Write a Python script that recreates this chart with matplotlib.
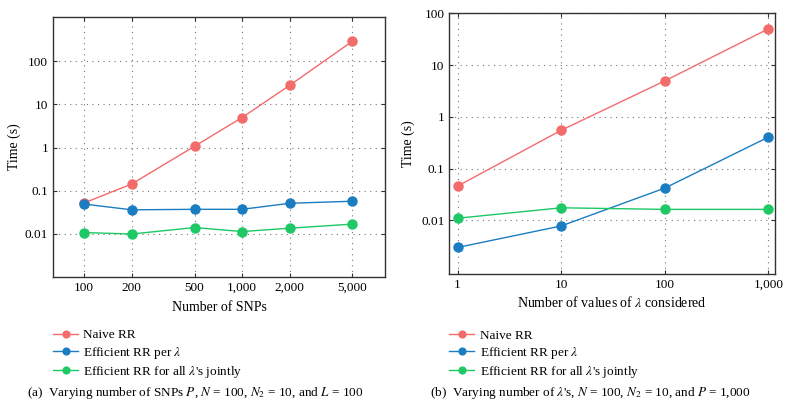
import numpy as np
import matplotlib
matplotlib.use("Agg")
import matplotlib.pyplot as plt

plt.rcParams['font.family'] = ['Liberation Serif', 'DejaVu Serif']
plt.rcParams['mathtext.fontset'] = 'stix'

# panel (a): number of SNPs
snps = [100, 200, 500, 1000, 2000, 5000]
snp_labels = ["100", "200", "500", "1,000", "2,000", "5,000"]
naive_a = [0.052, 0.143, 1.07, 4.95, 27.5, 290]
per_lambda_a = [0.049, 0.036, 0.037, 0.037, 0.051, 0.057]
joint_a = [0.0107, 0.0099, 0.014, 0.0113, 0.0135, 0.0168]

# panel (b): number of lambda values
lambdas = [1, 10, 100, 1000]
lambda_labels = ["1", "10", "100", "1,000"]
naive_b = [0.046, 0.55, 4.95, 50]
per_lambda_b = [0.003, 0.0078, 0.042, 0.405]
joint_b = [0.011, 0.0175, 0.0163, 0.0163]

y_ticks = [0.01, 0.1, 1, 10, 100]
y_labels = ["0.01", "0.1", "1", "10", "100"]

series_names = ["Naive RR", r"Efficient RR per $\lambda$",
                r"Efficient RR for all $\lambda$'s jointly"]
colors = ["#F36B6B", "#1B7DC1", "#1EC865"]

fig = plt.figure(figsize=(7.9, 4.08), dpi=100)
axA = fig.add_axes([0.0671, 0.3211, 0.4203, 0.6373])
axB = fig.add_axes([0.5687, 0.3284, 0.4123, 0.6390])


def style(ax, xs, xlabels, xlim, ylim):
    ax.set_xscale("log")
    ax.set_yscale("log")
    ax.set_xlim(*xlim)
    ax.set_ylim(*ylim)
    ax.xaxis.set_major_locator(matplotlib.ticker.FixedLocator(xs))
    ax.xaxis.set_major_formatter(matplotlib.ticker.FixedFormatter(xlabels))
    ax.yaxis.set_major_locator(matplotlib.ticker.FixedLocator(y_ticks))
    ax.yaxis.set_major_formatter(matplotlib.ticker.FixedFormatter(y_labels))
    ax.xaxis.set_minor_locator(matplotlib.ticker.NullLocator())
    ax.yaxis.set_minor_locator(matplotlib.ticker.NullLocator())
    ax.tick_params(direction="in", length=3, width=0.8, labelsize=9.5,
                   top=True, right=True, color="#333333")
    ax.grid(True, linestyle=(0, (1, 4)), color="#777777", linewidth=0.8)
    for s in ax.spines.values():
        s.set_color("#333333")
        s.set_linewidth(1.0)
    ax.set_ylabel("Time (s)", fontsize=10)


for ax, xs, data in [(axA, snps, [naive_a, per_lambda_a, joint_a]),
                     (axB, lambdas, [naive_b, per_lambda_b, joint_b])]:
    for vals, c, name in zip(data, colors, series_names):
        ax.plot(xs, vals, color=c, linewidth=1.0, marker="o", markersize=6.5,
                label=name)

style(axA, snps, snp_labels, (63.5, 8050), (1e-3, 1.06e3))
style(axB, lambdas, lambda_labels, (0.83, 1160), (9.2e-4, 100))

axA.set_xlabel("Number of SNPs", fontsize=10, labelpad=5)
axB.set_xlabel(r"Number of values of $\lambda$ considered", fontsize=10, labelpad=3)
axA.yaxis.set_label_coords(-0.095, 0.5)
axB.yaxis.set_label_coords(-0.105, 0.5)

for ax, yoff in [(axA, -0.2), (axB, -0.212)]:
    ax.legend(loc="upper left", bbox_to_anchor=(0.0, yoff), frameon=False,
              fontsize=9.5, borderpad=0, borderaxespad=0, handlelength=1.9,
              handletextpad=0.4, labelspacing=0.25, markerscale=0.75)

fig.text(0.034, 0.036,
         r"(a)  Varying number of SNPs $P$, $N$ = 100, $N_2$ = 10, and $L$ = 100",
         fontsize=9.5, va="center")
fig.text(0.544, 0.036,
         r"(b)  Varying number of $\lambda$'s, $N$ = 100, $N_2$ = 10, and $P$ = 1,000",
         fontsize=9.5, va="center")

fig.savefig("out.png", dpi=100)
